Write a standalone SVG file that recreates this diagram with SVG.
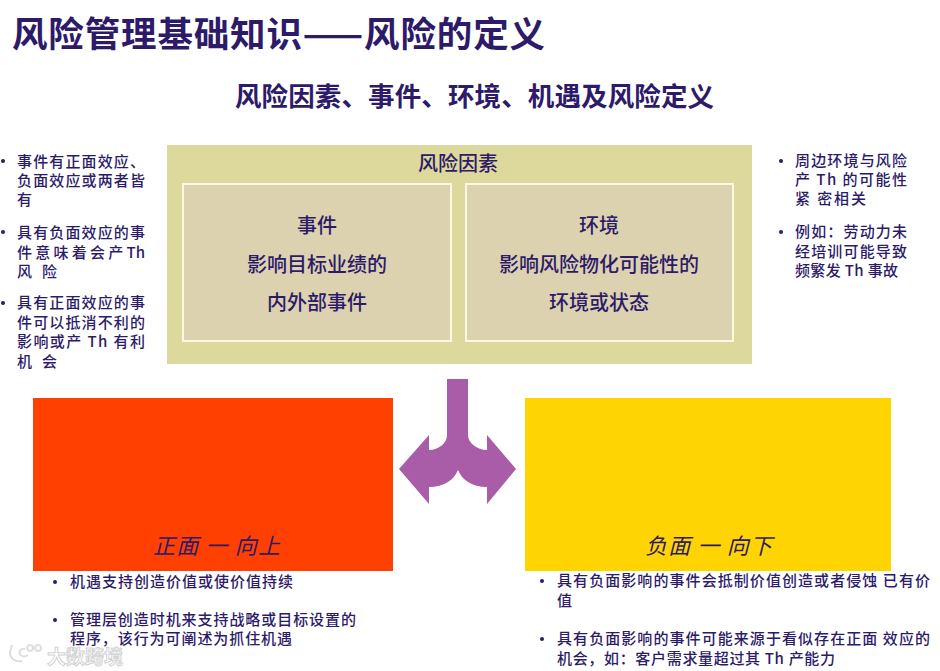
<svg xmlns="http://www.w3.org/2000/svg" width="940" height="671" viewBox="0 0 940 671">
<style>
text{font-family:"Noto Sans CJK SC","Liberation Sans",sans-serif;fill:#2d1b69}
.title{font-size:35.5px;font-weight:700}
.sub{font-size:26.5px;font-weight:700}
.s{font-size:15px;font-weight:500}
.m{font-size:20px;text-anchor:middle;font-weight:500}
.i{font-size:22px;font-style:italic}
.inner{fill:#dcd2b0;stroke:#fdf8e2;stroke-width:2}
.b{fill:#2d1b69}
</style>
<rect width="940" height="671" fill="#fff"/>
<g id="headings">
<text class="title" x="12" y="47" textLength="533" lengthAdjust="spacing">风险管理基础知识——风险的定义</text>
<text class="sub" x="235" y="106" textLength="479" lengthAdjust="spacing">风险因素、事件、环境、机遇及风险定义</text>
</g>
<g id="notes-left">
<circle class="b" cx="3" cy="161" r="2"/><circle class="b" cx="3" cy="232" r="2"/><circle class="b" cx="3" cy="303" r="2"/>
<text class="s" x="17" y="167" textLength="128">事件有正面效应、</text>
<text class="s" x="17" y="186" textLength="128">负面效应或两者皆</text>
<text class="s" x="17" y="205">有</text>
<text class="s" x="17" y="238" textLength="128">具有负面效应的事</text>
<text class="s" x="17" y="258" textLength="128">件 意 味 着 会 产 Th</text>
<text class="s" x="17" y="277" textLength="40">风 险</text>
<text class="s" x="17" y="308" textLength="128">具有正面效应的事</text>
<text class="s" x="17" y="328" textLength="128">件可以抵消不利的</text>
<text class="s" x="17" y="347" textLength="128">影响或产 Th 有利</text>
<text class="s" x="17" y="367" textLength="40">机 会</text>
</g>
<g id="risk-factors">
<rect x="167" y="145" width="585" height="219" fill="#ddd89b"/>
<text class="m" x="458" y="171">风险因素</text>
</g>
<g id="event">
<rect class="inner" x="183" y="184" width="268" height="157"/>
<text class="m" x="317" y="233">事件</text>
<text class="m" x="317" y="272">影响目标业绩的</text>
<text class="m" x="317" y="310">内外部事件</text>
</g>
<g id="environment">
<rect class="inner" x="466" y="184" width="267" height="157"/>
<text class="m" x="599" y="233">环境</text>
<text class="m" x="599" y="272">影响风险物化可能性的</text>
<text class="m" x="599" y="310">环境或状态</text>
</g>
<g id="notes-right">
<circle class="b" cx="781" cy="161" r="2"/><circle class="b" cx="781" cy="232" r="2"/>
<text class="s" x="795" y="166" textLength="112">周边环境与风险</text>
<text class="s" x="795" y="185" textLength="112">产 Th 的可能性</text>
<text class="s" x="795" y="204" textLength="71">紧 密相关</text>
<text class="s" x="795" y="237" textLength="112">例如：劳动力未</text>
<text class="s" x="795" y="257" textLength="112">经培训可能导致</text>
<text class="s" x="795" y="276" textLength="103">频繁发 Th 事故</text>
</g>
<g id="connectors">
<path fill="#a95ca8" d="M447 379H468V435C468 443 477 450 487 450V435L516 469L487 504V487C472 487 462 480 458 470C454 480 444 487 429 487V504L399 469L429 435V450C439 450 447 443 447 435Z"/>
</g>
<g id="positive">
<rect x="33" y="398" width="360" height="173" fill="#ff4000"/>
<text class="i" x="153" y="554" textLength="127">正面 一 向上</text>
</g>
<g id="negative">
<rect x="525" y="398" width="366" height="173" fill="#ffd400"/>
<text class="i" x="645" y="554" textLength="127">负面 一 向下</text>
</g>
<g id="notes-positive">
<circle class="b" cx="55" cy="582" r="2"/><circle class="b" cx="55" cy="620" r="2"/>
<text class="s" x="70" y="587" textLength="223">机遇支持创造价值或使价值持续</text>
<text class="s" x="70" y="625" textLength="286">管理层创造时机来支持战略或目标设置的</text>
<text class="s" x="70" y="644" textLength="222">程序，该行为可阐述为抓住机遇</text>
</g>
<g id="notes-negative">
<circle class="b" cx="542" cy="581" r="2"/><circle class="b" cx="542" cy="639" r="2"/>
<text class="s" x="557" y="586" textLength="373">具有负面影响的事件会抵制价值创造或者侵蚀 已有价</text>
<text class="s" x="557" y="606">值</text>
<text class="s" x="557" y="644" textLength="373">具有负面影响的事件可能来源于看似存在正面 效应的</text>
<text class="s" x="557" y="664" textLength="278">机会，如：客户需求量超过其 Th 产能力</text>
</g>
<g id="watermark">
<path d="M12 645L10 652C10 659 15 662 22 661M25 649C21 648 19 651 20 654C21 657 25 657 28 655M30 645a3 3 0 1 0 .1 0M38 645a3 3 0 1 0 .1 0" fill="none" stroke="#dddddd" stroke-width="2"/>
<text x="47" y="664" font-size="19" textLength="76" style="fill:#ffffff;stroke:#d2d2d2;stroke-width:1;font-weight:700">大数跨境</text>
</g>
</svg>
